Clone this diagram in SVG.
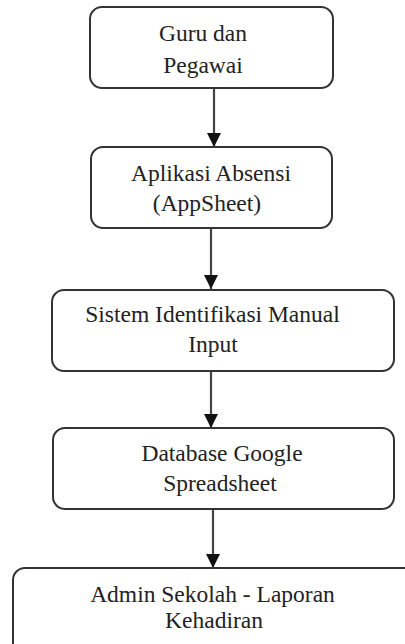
<svg xmlns="http://www.w3.org/2000/svg" width="405" height="644" viewBox="0 0 405 644">
<style>
.box{fill:#ffffff;stroke:#333333;stroke-width:2}
.t{font-family:'Liberation Serif','Times New Roman','DejaVu Serif',serif;font-size:23.5px;fill:#222222;text-anchor:middle}
.c{stroke:#444444;stroke-width:2.2;fill:none;marker-end:url(#ah)}
</style>
<defs>
<marker id="ah" markerUnits="userSpaceOnUse" viewBox="0 0 14 14" refX="14" refY="7" markerWidth="14" markerHeight="14" orient="auto">
<path d="M0,0 L14,7 L0,14 Z" fill="#111111"/>
</marker>
</defs>
<rect width="405" height="644" fill="#ffffff"/>
<g id="connectors">
<path class="c" d="M214,88 V147"/>
<path class="c" d="M211,228 V289"/>
<path class="c" d="M211,371 V428"/>
<path class="c" d="M213,509 V568"/>
</g>
<g id="node1">
<rect class="box" x="90" y="7" width="243" height="81" rx="12"/>
<text class="t" x="203" y="41" font-family="Liberation Serif, serif">Guru dan</text>
<text class="t" x="203" y="73" font-family="Liberation Serif, serif">Pegawai</text>
</g>
<g id="node2">
<rect class="box" x="91" y="147" width="241" height="81" rx="12"/>
<text class="t" x="211" y="181">Aplikasi Absensi</text>
<text class="t" x="207" y="211">(AppSheet)</text>
</g>
<g id="node3">
<rect class="box" x="52" y="290" width="342" height="81" rx="12"/>
<text class="t" x="212.5" y="322">Sistem Identifikasi Manual</text>
<text class="t" x="213" y="352">Input</text>
</g>
<g id="node4">
<rect class="box" x="53" y="428" width="341" height="81" rx="12"/>
<text class="t" x="222" y="461">Database Google</text>
<text class="t" x="220" y="491">Spreadsheet</text>
</g>
<g id="node5">
<rect class="box" x="13" y="568" width="410" height="100" rx="12"/>
<text class="t" x="212.5" y="602">Admin Sekolah - Laporan</text>
<text class="t" x="214" y="628">Kehadiran</text>
</g>
</svg>
